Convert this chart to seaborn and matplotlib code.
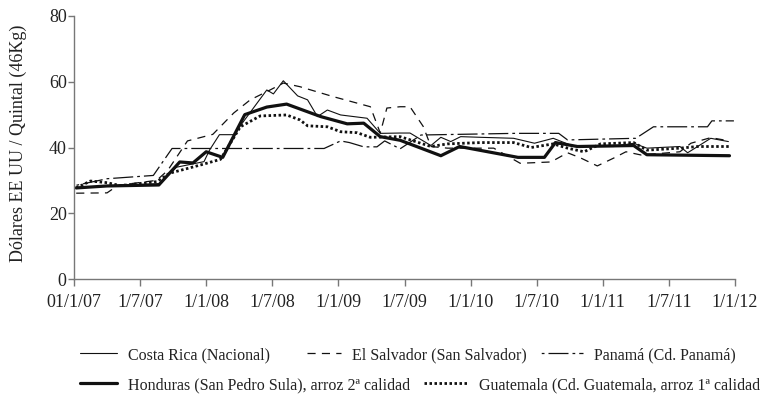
import pandas as pd
import seaborn as sns
import matplotlib.pyplot as plt

# precios del arroz, meses desde 01/1/07
costa_rica_mes = [0.2, 3, 7.7, 9.3, 11.8, 12.3, 13.2, 14.5, 17.5, 18.1, 19, 20.3, 21.2, 22.1, 23, 24.2,
                  26.6, 27.8, 29.6, 30.5, 32.4, 33.3, 34.2, 35.1, 36.9, 39.9, 41.8, 43.5, 45.4, 49,
                  50.8, 52, 55, 55.7, 57.8, 59.4]
costa_rica = [27.7, 28.3, 29.0, 34.0, 35.7, 39.2, 43.9, 43.9, 57.5, 56.3, 60.3, 55.7, 54.5, 49.4, 51.4, 49.9,
              48.9, 44.3, 44.4, 44.4, 40.6, 43.1, 41.8, 43.3, 43.1, 42.8, 41.3, 42.8, 40.3, 40.3,
              41.3, 39.8, 40.3, 38.4, 42.8, 41.8]

el_salvador_mes = [0.2, 3, 4, 7.5, 8.5, 9.3, 10.3, 12.6, 14.5, 16, 17.8, 19, 20.5, 23.5, 26.9, 27.8, 28.4,
                   29.6, 30.5, 31.7, 32.4, 33.9, 38.1, 40.5, 43.3, 44.8, 46, 47.5, 49, 50.1, 51.5, 55,
                   56, 57.8, 59.5]
el_salvador = [26.1, 26.2, 28.5, 30.0, 33.0, 37.0, 42.0, 44.0, 50.5, 54.5, 57.5, 59.6, 58.5, 55.5, 52.4, 44.4, 52.0,
               52.4, 52.4, 46.4, 40.3, 39.8, 39.8, 35.2, 35.6, 38.4, 36.8, 34.4, 36.8, 38.7, 37.7, 38.7,
               41.3, 43.0, 42.0]

panama_mes = [0.2, 3, 7.2, 8.9, 22.7, 24.2, 25, 26.3, 27.5, 28.2, 29.6, 31.5, 40, 44, 44.8, 51, 52.6,
              57.5, 57.9, 59.9]
panama = [28.5, 30.5, 31.5, 39.7, 39.7, 42.0, 41.5, 40.2, 40.2, 42.0, 39.6, 43.8, 44.3, 44.3, 42.3, 42.8, 46.3,
          46.3, 48.1, 48.1]

honduras_mes = [0.2, 3, 7.7, 9.6, 10.8, 12, 13.5, 15.5, 17.5, 19.3, 22.4, 24.8, 26.3, 27.8, 29.6, 33.3, 35,
                40.3, 42.7, 43.7, 45.7, 50.8, 52, 59.5]
honduras = [27.7, 28.3, 28.6, 35.6, 35.3, 38.7, 37.0, 50.0, 52.3, 53.2, 49.4, 47.2, 47.4, 43.3, 42.2, 37.5, 40.3,
            37.0, 37.0, 41.5, 40.3, 40.6, 37.8, 37.5]

guatemala_mes = [0.2, 1.5, 3, 4.2, 7.5, 8.7, 11.5, 13.3, 15.1, 16.9, 19.3, 20.5, 21.2, 23, 24.2, 25.7, 26.9,
                 29.6, 32.4, 33.9, 36.9, 39.9, 41.5, 43.5, 44.8, 46.3, 47.8, 50.8, 52, 55, 56.6, 59.6]
guatemala = [27.7, 29.8, 29.3, 28.4, 29.6, 32.2, 34.7, 36.4, 46.3, 49.6, 49.9, 48.4, 46.6, 46.3, 44.8, 44.5, 43.1,
             43.3, 40.3, 41.1, 41.5, 41.5, 40.0, 41.1, 39.8, 38.7, 41.1, 41.5, 39.2, 39.8, 40.3, 40.3]

fechas = ['01/1/07', '1/7/07', '1/1/08', '1/7/08', '1/1/09', '1/7/09',
          '1/1/10', '1/7/10', '1/1/11', '1/7/11', '1/1/12']

series = [
    ('Costa Rica (Nacional)', costa_rica_mes, costa_rica, dict(lw=0.8, ls='-')),
    ('El Salvador (San Salvador)', el_salvador_mes, el_salvador, dict(lw=0.9, ls=(0, (6.5, 5)))),
    ('Panamá (Cd. Panamá)', panama_mes, panama, dict(lw=0.9, ls=(19, (16, 3.2, 2.2, 3.2)))),
    ('Honduras (San Pedro Sula), arroz 2ª calidad', honduras_mes, honduras, dict(lw=2.3, ls='-')),
    ('Guatemala (Cd. Guatemala, arroz 1ª calidad', guatemala_mes, guatemala, dict(lw=2.0, ls=(0, (0.9, 0.9)))),
]

sns.set_style('ticks')
plt.rcParams['font.family'] = ['Liberation Serif', 'DejaVu Serif']

fig = plt.figure(figsize=(7.62, 4.01), dpi=100)
ax = fig.add_axes([74 / 762, 1 - 279 / 401, 661 / 762, 263 / 401])

lineas = []
for nombre, mes, valores, estilo in series:
    d = pd.DataFrame({'mes': mes, 'precio': valores})
    sns.lineplot(data=d, x='mes', y='precio', ax=ax, color='#111111',
                 linewidth=estilo['lw'], linestyle=estilo['ls'])
    lineas.append(ax.get_lines()[-1])

ax.set_xlim(0, 60)
ax.set_ylim(0, 80)
ax.set_xticks(range(0, 61, 6))
ax.set_xticklabels(fechas)
ax.set_yticks([0, 20, 40, 60, 80])
ax.set_xlabel('')
ax.set_ylabel('Dólares EE UU / Quintal (46Kg)', fontsize=13, color='#222222')
ax.yaxis.set_label_coords(-0.071, 0.515)
sns.despine(ax=ax)
for s in ['left', 'bottom']:
    ax.spines[s].set_color('#777777')
    ax.spines[s].set_linewidth(1.0)
ax.tick_params(axis='x', length=5, width=1, color='#777777', pad=6, labelsize=13, labelcolor='#222222')
ax.tick_params(axis='y', length=4.3, width=1, color='#777777', pad=1, labelsize=13, labelcolor='#222222')

# leyenda en dos filas, como en el original
posiciones = [(80, 355, 2.3), (307, 355, 2.1), (541, 355, 2.6), (80, 385, 2.3), (424, 385, 2.75)]
for (nombre, _, _, _), linea, (px, py, largo) in zip(series, lineas, posiciones):
    fig.legend(handles=[linea], labels=[nombre], loc='center left',
               bbox_to_anchor=(px / 762, 1 - py / 401), frameon=False,
               borderpad=0, borderaxespad=0, handlelength=largo, handletextpad=0.7,
               prop={'size': 11.5}, labelcolor='#222222')

fig.savefig('out.png', dpi=100)
